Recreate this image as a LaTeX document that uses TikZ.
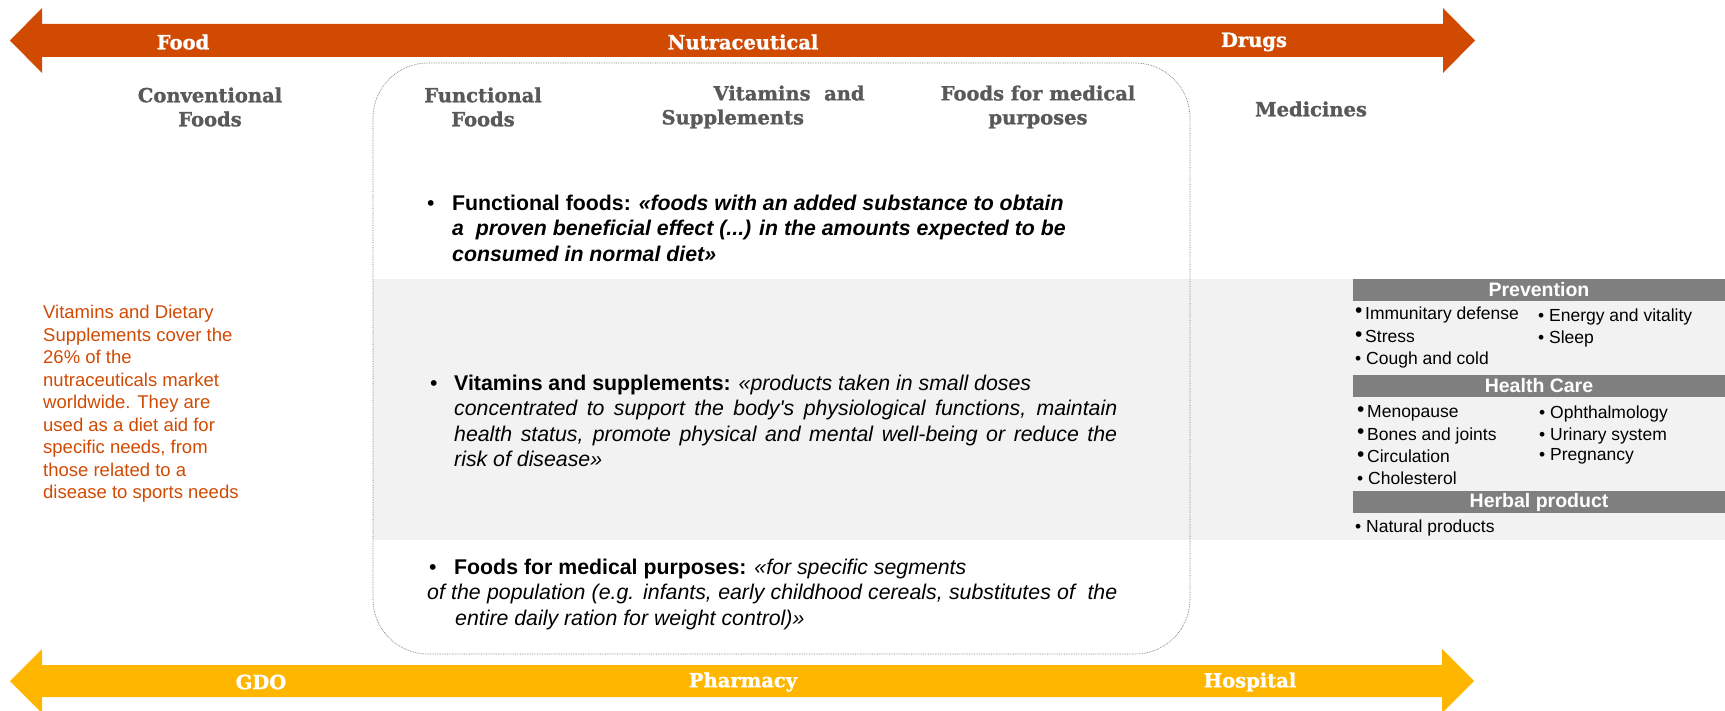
\documentclass[tikz,border=0pt]{standalone}
\usepackage{fontspec}
\setmainfont{Liberation Sans}
\newfontfamily\titlefont{DejaVu Serif}[BoldFont={DejaVu Serif Bold}, BoldFeatures={FakeBold=1.2}]

\definecolor{pwcorange}{HTML}{D04A02}
\definecolor{pwcgold}{HTML}{FFB600}
\definecolor{bandgray}{HTML}{F2F2F2}
\definecolor{bargray}{HTML}{7F7F7F}
\definecolor{headgray}{HTML}{595959}

\newcommand{\bigbul}{\makebox[10pt][l]{\raisebox{1.5pt}{\fontsize{21}{21}\selectfont •}}}
\newcommand{\smbul}{•\ }

\tikzset{
  arrowlabel/.style={text=white, font=\titlefont\bfseries\fontsize{19.5}{23}\selectfont},
  colhead/.style={text=headgray, align=center, font=\titlefont\bfseries\fontsize{19.5}{24}\selectfont},
  para/.style={anchor=west, align=left, inner sep=0pt, font=\fontsize{21.3}{25.5}\selectfont},
  catbar/.style={fill=bargray, text=white, minimum width=372pt, minimum height=22pt,
    inner sep=0pt, font=\bfseries\fontsize{19.5}{20}\selectfont},
  listitem/.style={anchor=west, inner sep=0pt, font=\fontsize{17.5}{20}\selectfont},
}

\begin{document}
\begin{tikzpicture}[x=1pt, y=-1pt]
  \useasboundingbox (0,0) rectangle (1725,711);

  % background band and nutraceutical box
  \fill[bandgray] (373,279) rectangle (1725,540);
  \draw[black!55, densely dotted, line width=0.7pt, rounded corners=55pt] (373,63) rectangle (1190,654);

  % the two arrows
  \fill[pwcorange] (10,40.5) -- (42,8) -- (42,24) -- (1443,24) -- (1443,8) -- (1475,40.5)
    -- (1443,73) -- (1443,57) -- (42,57) -- (42,73) -- cycle;
  \fill[pwcgold] (10,681) -- (42,649) -- (42,665) -- (1442,665) -- (1442,649) -- (1474,681)
    -- (1442,713) -- (1442,697) -- (42,697) -- (42,713) -- cycle;

  \begin{scope}[every node/.style={arrowlabel}]
    \node (food)  at (183,42)  {Food};
    \node (nutra) at (743,42)  {Nutraceutical};
    \node (drugs) at (1254,42) {Drugs};
    \node (gdo)   at (261,682) {GDO};
    \node (pharm) at (743,682) {Pharmacy};
    \node (hosp)  at (1250,682) {Hospital};
  \end{scope}

  \begin{scope}[every node/.style={colhead}]
    \node (conv) at (210,107)  {Conventional\\Foods};
    \node (func) at (483,107)  {Functional\\Foods};
    \node[align=left, anchor=west] (vits) at (658,107) {\hspace*{52pt}Vitamins\ \ and\\Supplements};
    \node (fmed) at (1038,107) {Foods for medical\\purposes};
    \node (medi) at (1311,109) {Medicines};
  \end{scope}

  \node[anchor=west, align=left, inner sep=0pt, text=pwcorange, font=\fontsize{18.5}{22.5}\selectfont]
    (share) at (43,404) {Vitamins and Dietary\\Supplements cover the\\26\% of the\\nutraceuticals market\\worldwide. They are\\used as a diet aid for\\specific needs, from\\those related to a\\disease to sports needs};

  \begin{scope}[every node/.style={para}]
    \node (ffdef) at (427,228) {\makebox[25pt][l]{•}\textbf{Functional foods: \textit{«foods with an added substance to obtain}}\\
      \hspace*{25pt}\textbf{\textit{a\ \ proven beneficial effect (...) in the amounts expected to be}}\\
      \hspace*{25pt}\textbf{\textit{consumed in normal diet»}}};
    \node (vsdef) at (430,421) {\makebox[24pt][l]{•}\textbf{Vitamins and supplements:} \textit{«products taken in small doses}\\
      \hspace*{24pt}\makebox[663pt][s]{\itshape concentrated to support the body\textquotesingle s physiological functions, maintain}\\
      \hspace*{24pt}\makebox[663pt][s]{\itshape health status, promote physical and mental well-being or reduce the}\\
      \hspace*{24pt}\textit{risk of disease»}};
    \node (fmdef) at (427,594) {\hspace*{2pt}\makebox[25pt][l]{•}\textbf{Foods for medical purposes:} \textit{«for specific segments}\\
      \makebox[690pt][s]{\itshape of the population (e.g. infants, early childhood cereals, substitutes of\ \ the}\\
      \hspace*{28pt}\textit{entire daily ration for weight control)»}};
  \end{scope}

  \begin{scope}[every node/.style={catbar}]
    \node (prev)  at (1539,290) {Prevention};
    \node (care)  at (1539,386) {Health Care};
    \node (herb)  at (1539,502) {Herbal product};
  \end{scope}

  \begin{scope}[every node/.style={listitem}]
    \node (imm)  at (1355,314.5) {\bigbul Immunitary defense};
    \node (str)  at (1355,336.5) {\bigbul Stress};
    \node (cgh)  at (1355,359.5) {\smbul Cough and cold};
    \node (nrg)  at (1538,316.5) {\smbul Energy and vitality};
    \node (slp)  at (1538,338.5) {\smbul Sleep};
    \node (meno) at (1357,413.5) {\bigbul Menopause};
    \node (bone) at (1357,435.5) {\bigbul Bones and joints};
    \node (circ) at (1357,456.5) {\bigbul Circulation};
    \node (chol) at (1357,478.5) {\smbul Cholesterol};
    \node (oph)  at (1539,413.5) {\smbul Ophthalmology};
    \node (uri)  at (1539,435.5) {\smbul Urinary system};
    \node (preg) at (1539,456.5) {\smbul Pregnancy};
    \node (nat)  at (1355,527.5) {\smbul Natural products};
  \end{scope}

\end{tikzpicture}
\end{document}
